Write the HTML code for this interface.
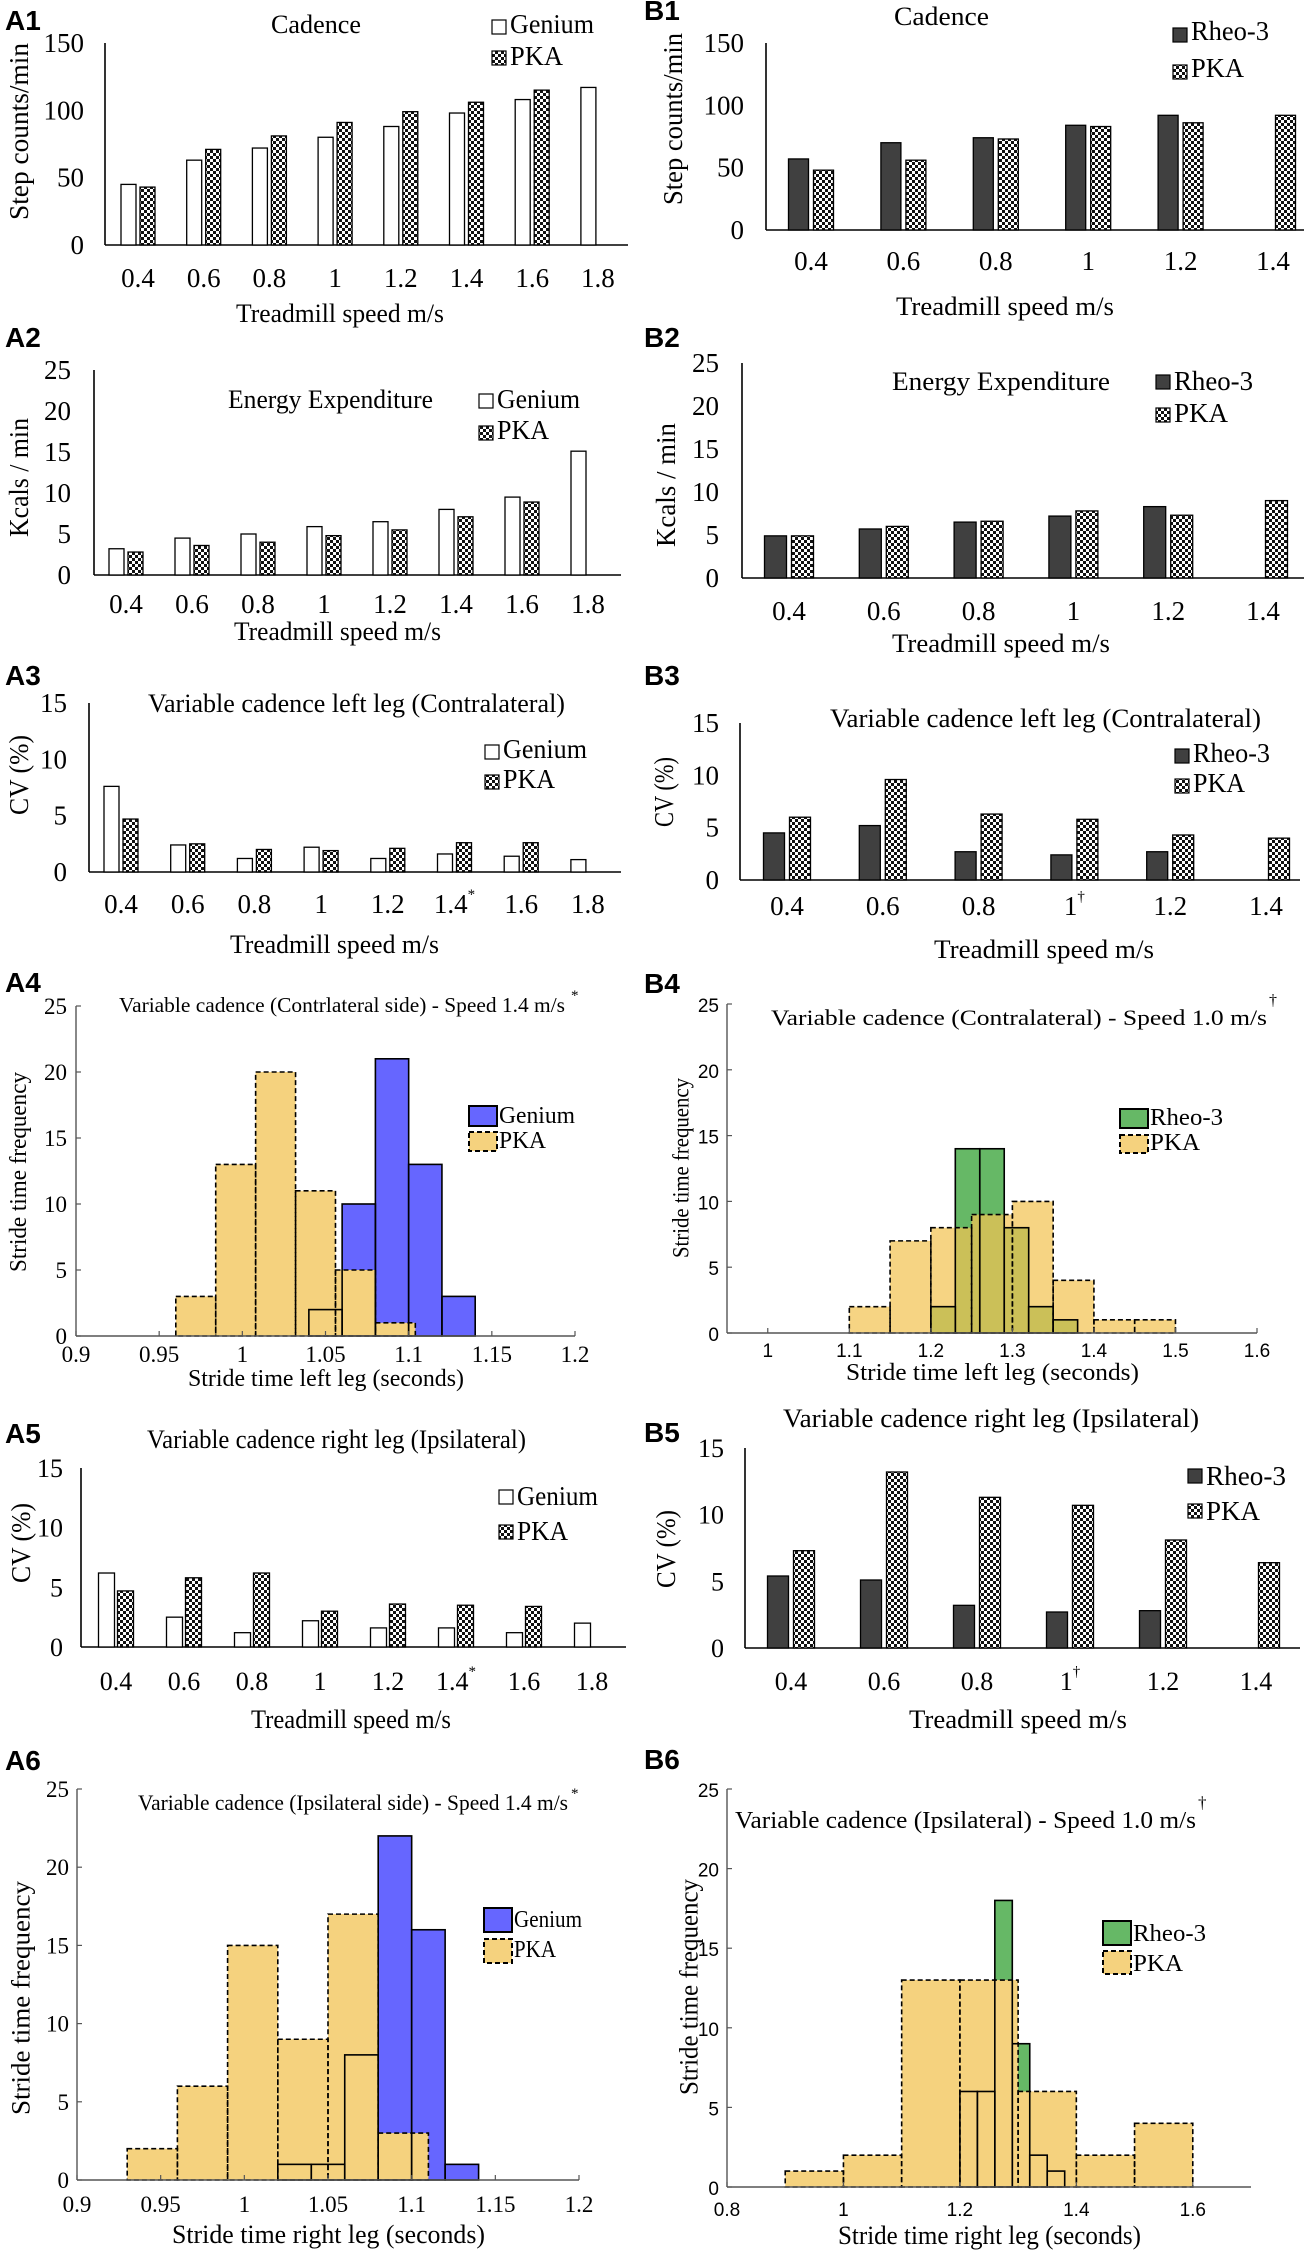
<!DOCTYPE html>
<html><head><meta charset="utf-8"><title>Gait comparison figure</title>
<style>html,body{margin:0;padding:0;background:#fff;}svg{display:block;}</style>
</head><body>
<svg id="fig" xmlns="http://www.w3.org/2000/svg" width="1313" height="2256" viewBox="0 0 1313 2256">
<defs>
<pattern id="chk" width="6" height="6" patternUnits="userSpaceOnUse"><rect width="6" height="6" fill="#fff"/><rect width="3" height="3" fill="#111"/><rect x="3" y="3" width="3" height="3" fill="#111"/></pattern>
</defs>
<rect width="1313" height="2256" fill="#fff"/>
</svg>
<script>
// ---------- data ----------
const speedsA = ['0.4','0.6','0.8','1','1.2','1.4','1.6','1.8'];
const speedsB = ['0.4','0.6','0.8','1','1.2','1.4'];
const a1Genium = [45,63,72,80,88,98,108,117];
const a1PKA = [43,71,81,91,99,106,115];
const b1Rheo = [57,70,74,84,92];
const b1PKA = [48,56,73,83,86,92];
const a2Genium = [3.2,4.5,5.0,5.9,6.5,8.0,9.5,15.1];
const a2PKA = [2.8,3.6,4.0,4.8,5.5,7.1,8.9];
const b2Rheo = [4.9,5.7,6.5,7.2,8.3];
const b2PKA = [4.9,6.0,6.6,7.8,7.3,9.0];
const a3Genium = [7.6,2.4,1.2,2.2,1.2,1.6,1.4,1.1];
const a3PKA = [4.7,2.5,2.0,1.9,2.1,2.6,2.6];
const b3Rheo = [4.5,5.2,2.7,2.4,2.7];
const b3PKA = [6.0,9.6,6.3,5.8,4.3,4.0];
const a5Genium = [6.2,2.5,1.2,2.2,1.6,1.6,1.2,2.0];
const a5PKA = [4.7,5.8,6.2,3.0,3.6,3.5,3.4];
const b5Rheo = [5.4,5.1,3.2,2.7,2.8];
const b5PKA = [7.3,13.2,11.3,10.7,8.1,6.4];
const ticksCadence = [0,50,100,150];
const ticksEnergy = [0,5,10,15,20,25];
const ticksCV = [0,5,10,15];
const ticksFreq = [0,5,10,15,20,25];
const a4PkaEdges = [0.96,0.984,1.008,1.032,1.056,1.080,1.104];
const a4PkaCounts = [3,13,20,11,5,1];
const a4GenEdges = [1.04,1.06,1.08,1.10,1.12,1.14];
const a4GenCounts = [2,10,21,13,3];
const b4PkaEdges = [1.10,1.15,1.20,1.25,1.30,1.35,1.40,1.45,1.50];
const b4PkaCounts = [2,7,8,9,10,4,1,1];
const b4RheoEdges = [1.20,1.23,1.26,1.29,1.32,1.35,1.38];
const b4RheoCounts = [2,14,14,8,2,1];
const a6PkaEdges = [0.93,0.96,0.99,1.02,1.05,1.08,1.11];
const a6PkaCounts = [2,6,15,9,17,3];
const a6GenEdges = [1.02,1.04,1.06,1.08,1.10,1.12,1.14];
const a6GenCounts = [1,1,8,22,16,1];
const b6PkaEdges = [0.9,1.0,1.1,1.2,1.3,1.4,1.5,1.6];
const b6PkaCounts = [1,2,13,13,6,2,4];
const b6RheoEdges = [1.20,1.23,1.26,1.29,1.32,1.35,1.38];
const b6RheoCounts = [6,6,18,9,2,1];
const xTicksA = [0.9,0.95,1,1.05,1.1,1.15,1.2];
const xTickLabelsA = ['0.9','0.95','1','1.05','1.1','1.15','1.2'];
const xTicksB4 = [1,1.1,1.2,1.3,1.4,1.5,1.6];
const xTickLabelsB4 = ['1','1.1','1.2','1.3','1.4','1.5','1.6'];
const xTicksB6 = [0.8,1.0,1.2,1.4,1.6];
const xTickLabelsB6 = ['0.8','1','1.2','1.4','1.6'];

// ---------- helpers ----------
const NS = 'http://www.w3.org/2000/svg';
const root = document.getElementById('fig');
const SERIF = '"Liberation Serif", "Times New Roman", serif';
const SANS = '"Liberation Sans", Arial, sans-serif';
function mk(tag, attrs, name, parent) {
  const el = document.createElementNS(NS, tag);
  for (const k in attrs) el.setAttribute(k, attrs[k]);
  
  
  (parent || root).appendChild(el);
  return el;
}
function txt(name, x, y, s, o) {
  o = o || {};
  const a = {x: x, y: y, 'font-family': o.family || SERIF, 'font-size': o.size || 26, fill: '#000', 'text-anchor': o.anchor || 'start'};
  if (o.weight) a['font-weight'] = o.weight;
  if (o.len) { a.textLength = o.len; a.lengthAdjust = 'spacingAndGlyphs'; }
  if (o.rot) { a.transform = 'rotate(-90 ' + x + ' ' + y + ')'; a['dominant-baseline'] = 'central'; }
  const el = mk('text', a, name);
  el.textContent = s;
  return el;
}
function ylabel(name, cx, y1, y2, s, size) {
  txt(name, cx, (y1 + y2) / 2, s, {rot: true, anchor: 'middle', len: y2 - y1, size: size || 26});
}

function barChart(id, c, cats, s1, s2, ticks, ymax, darkFirst, sup) {
  const ys = v => c.y0 - (v / ymax) * (c.y0 - c.yTop);
  const xc = i => c.c0 + i * c.sp;
  mk('line', {x1: c.ax, y1: c.yTop, x2: c.ax, y2: c.y0, stroke: '#000', 'stroke-width': 1.6}, id + '-y-axis');
  mk('line', {x1: c.ax, y1: c.y0, x2: c.xEnd, y2: c.y0, stroke: '#000', 'stroke-width': 1.6}, id + '-x-axis');
  ticks.forEach(function (t) {
    txt(id + '-y-tick-label', c.tr, ys(t) + 9, String(t), {anchor: 'end', size: c.fs || 27});
  });
  cats.forEach(function (lab, i) {
    const el = txt(id + '-x-tick-label', xc(i), c.tb, lab, {anchor: 'middle', size: c.fs || 27});
    if (sup && sup.i === i) {
      const sp = document.createElementNS(NS, 'tspan');
      sp.setAttribute('font-size', 15);
      sp.setAttribute('dy', -14);
      sp.textContent = sup.s;
      el.appendChild(sp);
    }
  });
  s1.forEach(function (v, i) {
    mk('rect', {x: xc(i) - c.gap / 2 - c.bw, y: ys(v), width: c.bw, height: c.y0 - ys(v), fill: darkFirst ? '#404040' : '#fff', stroke: '#000', 'stroke-width': 1.3}, id + '-bar-series1');
  });
  s2.forEach(function (v, i) {
    mk('rect', {x: xc(i) + c.gap / 2, y: ys(v), width: c.bw, height: c.y0 - ys(v), fill: 'url(#chk)', stroke: '#000', 'stroke-width': 1.3}, id + '-bar-pka');
  });
}
function barLegend(id, x, y1top, tb1, w1, lab1, y2top, tb2, w2, dark) {
  mk('rect', {x: x, y: y1top, width: 14, height: 14, fill: dark ? '#404040' : '#fff', stroke: '#000', 'stroke-width': 1.2}, id + '-legend-swatch-1');
  txt(id + '-legend-label-1', x + 18, tb1, lab1, {len: w1, size: 27});
  mk('rect', {x: x, y: y2top, width: 14, height: 14, fill: 'url(#chk)', stroke: '#000', 'stroke-width': 1.2}, id + '-legend-swatch-pka');
  txt(id + '-legend-label-pka', x + 18, tb2, 'PKA', {len: w2, size: 27});
}

function hist(id, c, pE, pC, gE, gC, gColor, pOpacity) {
  const xs = v => c.ax + (v - c.xmin) / (c.xmax - c.xmin) * (c.xEnd - c.ax);
  const ys = v => c.y0 - (v / 25) * (c.y0 - c.yTop);
  const fam = c.sans ? SANS : SERIF;
  const fs = c.sans ? 19 : 23;
  gC.forEach(function (v, i) {
    mk('rect', {x: xs(gE[i]), y: ys(v), width: xs(gE[i + 1]) - xs(gE[i]), height: c.y0 - ys(v), fill: gColor}, id + '-hist-device-fill');
  });
  pC.forEach(function (v, i) {
    mk('rect', {x: xs(pE[i]), y: ys(v), width: xs(pE[i + 1]) - xs(pE[i]), height: c.y0 - ys(v), fill: pOpacity < 1 ? '#f2c353' : '#f5d27e', 'fill-opacity': pOpacity}, id + '-hist-pka-fill');
  });
  gC.forEach(function (v, i) {
    mk('rect', {x: xs(gE[i]), y: ys(v), width: xs(gE[i + 1]) - xs(gE[i]), height: c.y0 - ys(v), fill: 'none', stroke: '#000', 'stroke-width': 1.6}, id + '-hist-device-bin');
  });
  pC.forEach(function (v, i) {
    mk('rect', {x: xs(pE[i]), y: ys(v), width: xs(pE[i + 1]) - xs(pE[i]), height: c.y0 - ys(v), fill: 'none', stroke: '#000', 'stroke-width': 1.6, 'stroke-dasharray': '5,3'}, id + '-hist-pka-bin');
  });
  mk('line', {x1: c.ax, y1: c.yTop, x2: c.ax, y2: c.y0, stroke: '#555', 'stroke-width': 1.4}, id + '-y-axis');
  mk('line', {x1: c.ax, y1: c.y0, x2: c.xEnd, y2: c.y0, stroke: '#555', 'stroke-width': 1.4}, id + '-x-axis');
  ticksFreq.forEach(function (t) {
    mk('line', {x1: c.ax, y1: ys(t), x2: c.ax + 5, y2: ys(t), stroke: '#555', 'stroke-width': 1.2}, id + '-y-tick');
    txt(id + '-y-tick-label', c.tr, ys(t) + 8, String(t), {anchor: 'end', size: fs, family: fam});
  });
  c.xt.forEach(function (t, i) {
    mk('line', {x1: xs(t), y1: c.y0, x2: xs(t), y2: c.y0 - 5, stroke: '#555', 'stroke-width': 1.2}, id + '-x-tick');
    txt(id + '-x-tick-label', xs(t), c.tb, c.xl[i], {anchor: 'middle', size: fs, family: fam});
  });
}
function histLegend(id, x, b1t, b1b, t1b, w1, lab1, color, b2t, b2b, t2b, w2) {
  mk('rect', {x: x, y: b1t, width: 28, height: b1b - b1t, fill: color, stroke: '#000', 'stroke-width': 2}, id + '-legend-swatch-1');
  txt(id + '-legend-label-1', x + 30, t1b, lab1, {len: w1, size: 24});
  mk('rect', {x: x, y: b2t, width: 28, height: b2b - b2t, fill: '#f5d27e', stroke: '#000', 'stroke-width': 2, 'stroke-dasharray': '5,3'}, id + '-legend-swatch-pka');
  txt(id + '-legend-label-pka', x + 30, t2b, 'PKA', {len: w2, size: 24});
}

// ---------- panel letters ----------
[['A1',30],['A2',347],['A3',685],['A4',992],['A5',1443],['A6',1770]].forEach(function (p) { txt('panel-label-' + p[0].toLowerCase(), 5, p[1], p[0], {family: SANS, weight: 'bold', size: 28}); });
[['B1',20],['B2',347],['B3',685],['B4',993],['B5',1442],['B6',1769]].forEach(function (p) { txt('panel-label-' + p[0].toLowerCase(), 644, p[1], p[0], {family: SANS, weight: 'bold', size: 28}); });

// ---------- A1 ----------
barChart('a1', {ax:105,xEnd:628,y0:245,yTop:43,c0:138,sp:65.7,bw:15,gap:4,tb:287,tr:84}, speedsA, a1Genium, a1PKA, ticksCadence, 150, false);
txt('a1-title', 271, 33, 'Cadence', {len: 90});
barLegend('a1', 492, 20, 33, 84, 'Genium', 51, 65, 53, false);
txt('a1-x-axis-title', 236, 322, 'Treadmill speed m/s', {len: 208});
ylabel('a1-y-axis-title', 19, 43, 220, 'Step counts/min', 27);
// ---------- B1 ----------
barChart('b1', {ax:766,xEnd:1304,y0:230,yTop:43,c0:811,sp:92.4,bw:20,gap:5,tb:270,tr:744}, speedsB, b1Rheo, b1PKA, ticksCadence, 150, true);
txt('b1-title', 894, 25, 'Cadence', {len: 95});
barLegend('b1', 1173, 28, 40, 78, 'Rheo-3', 65, 77, 53, true);
txt('b1-x-axis-title', 896, 315, 'Treadmill speed m/s', {len: 218});
ylabel('b1-y-axis-title', 673, 33, 205, 'Step counts/min', 27);
// ---------- A2 ----------
barChart('a2', {ax:94,xEnd:621,y0:575,yTop:370,c0:126,sp:66,bw:15,gap:4,tb:613,tr:71}, speedsA, a2Genium, a2PKA, ticksEnergy, 25, false);
txt('a2-title', 228, 408, 'Energy Expenditure', {len: 205});
barLegend('a2', 479, 394, 408, 83, 'Genium', 426, 439, 52, false);
txt('a2-x-axis-title', 234, 640, 'Treadmill speed m/s', {len: 207});
ylabel('a2-y-axis-title', 19, 418, 537, 'Kcals / min', 27);
// ---------- B2 ----------
barChart('b2', {ax:742,xEnd:1304,y0:578,yTop:363,c0:789,sp:94.8,bw:22,gap:5,tb:620,tr:719}, speedsB, b2Rheo, b2PKA, ticksEnergy, 25, true);
txt('b2-title', 892, 390, 'Energy Expenditure', {len: 218});
barLegend('b2', 1156, 375, 390, 79, 'Rheo-3', 408, 422, 54, true);
txt('b2-x-axis-title', 892, 652, 'Treadmill speed m/s', {len: 218});
ylabel('b2-y-axis-title', 666, 423, 547, 'Kcals / min', 27);
// ---------- A3 ----------
barChart('a3', {ax:89,xEnd:621,y0:872,yTop:703,c0:121,sp:66.7,bw:15,gap:4,tb:913,tr:67}, speedsA, a3Genium, a3PKA, ticksCV, 15, false, {i:5, s:'*'});
txt('a3-title', 148, 712, 'Variable cadence left leg (Contralateral)', {len: 417});
barLegend('a3', 485, 745, 758, 84, 'Genium', 775, 788, 52, false);
txt('a3-x-axis-title', 230, 953, 'Treadmill speed m/s', {len: 209});
ylabel('a3-y-axis-title', 19, 735, 815, 'CV (%)', 27);
// ---------- B3 ----------
barChart('b3', {ax:740,xEnd:1300,y0:880,yTop:723,c0:787,sp:95.8,bw:21,gap:5,tb:915,tr:719}, speedsB, b3Rheo, b3PKA, ticksCV, 15, true, {i:3, s:'†'});
txt('b3-title', 830, 727, 'Variable cadence left leg (Contralateral)', {len: 431});
barLegend('b3', 1175, 749, 762, 77, 'Rheo-3', 779, 792, 52, true);
txt('b3-x-axis-title', 934, 958, 'Treadmill speed m/s', {len: 220});
ylabel('b3-y-axis-title', 664, 757, 827, 'CV (%)', 27);
// ---------- A4 ----------
hist('a4', {ax:76,xEnd:575,xmin:0.9,xmax:1.2,y0:1336,yTop:1006,tb:1362,tr:67,xt:xTicksA,xl:xTickLabelsA,sans:false}, a4PkaEdges, a4PkaCounts, a4GenEdges, a4GenCounts, '#6666ff', 1);
txt('a4-title', 119, 1012, 'Variable cadence (Contrlateral side) - Speed 1.4 m/s', {len: 446, size: 21});
txt('a4-title-mark', 571, 1000, '*', {size: 15});
histLegend('a4', 469, 1106, 1126, 1123, 76, 'Genium', '#6666ff', 1132, 1151, 1148, 47);
txt('a4-x-axis-title', 188, 1386, 'Stride time left leg (seconds)', {len: 276, size: 24});
ylabel('a4-y-axis-title', 19, 1072, 1272, 'Stride time frequency', 24);
// ---------- B4 ----------
hist('b4', {ax:727,xEnd:1257,xmin:0.95,xmax:1.6,y0:1333,yTop:1004,tb:1357,tr:719,xt:xTicksB4,xl:xTickLabelsB4,sans:true}, b4PkaEdges, b4PkaCounts, b4RheoEdges, b4RheoCounts, '#66b866', 0.72);
txt('b4-title', 771, 1025, 'Variable cadence (Contralateral) - Speed 1.0 m/s', {len: 496, size: 22});
txt('b4-title-mark', 1269, 1005, '†', {size: 16});
histLegend('b4', 1120, 1109, 1128, 1125, 73, 'Rheo-3', '#66b866', 1135, 1153, 1150, 50);
txt('b4-x-axis-title', 846, 1380, 'Stride time left leg (seconds)', {len: 293, size: 24});
ylabel('b4-y-axis-title', 681, 1078, 1258, 'Stride time frequency', 23);
// ---------- A5 ----------
barChart('a5', {ax:81,xEnd:626,y0:1647,yTop:1468,c0:116,sp:68,bw:16,gap:3,tb:1690,tr:63,fs:26}, speedsA, a5Genium, a5PKA, ticksCV, 15, false, {i:5, s:'*'});
txt('a5-title', 147, 1448, 'Variable cadence right leg (Ipsilateral)', {len: 379});
barLegend('a5', 499, 1490, 1505, 81, 'Genium', 1525, 1540, 51, false);
txt('a5-x-axis-title', 251, 1728, 'Treadmill speed m/s', {len: 200});
ylabel('a5-y-axis-title', 21, 1503, 1583, 'CV (%)', 27);
// ---------- B5 ----------
barChart('b5', {ax:745,xEnd:1300,y0:1648,yTop:1448,c0:791,sp:93,bw:21,gap:5,tb:1690,tr:724,fs:26}, speedsB, b5Rheo, b5PKA, ticksCV, 15, true, {i:3, s:'†'});
txt('b5-title', 783, 1427, 'Variable cadence right leg (Ipsilateral)', {len: 416});
barLegend('b5', 1188, 1469, 1485, 80, 'Rheo-3', 1504, 1520, 54, true);
txt('b5-x-axis-title', 909, 1728, 'Treadmill speed m/s', {len: 218});
ylabel('b5-y-axis-title', 666, 1510, 1588, 'CV (%)', 27);
// ---------- A6 ----------
hist('a6', {ax:77,xEnd:579,xmin:0.9,xmax:1.2,y0:2180,yTop:1789,tb:2212,tr:69,xt:xTicksA,xl:xTickLabelsA,sans:false}, a6PkaEdges, a6PkaCounts, a6GenEdges, a6GenCounts, '#6666ff', 1);
txt('a6-title', 138, 1810, 'Variable cadence (Ipsilateral side) - Speed 1.4 m/s', {len: 430, size: 22});
txt('a6-title-mark', 571, 1798, '*', {size: 15});
histLegend('a6', 484, 1908, 1932, 1927, 68, 'Genium', '#6666ff', 1939, 1963, 1957, 42);
txt('a6-x-axis-title', 172, 2243, 'Stride time right leg (seconds)', {len: 313, size: 26});
ylabel('a6-y-axis-title', 21, 1881, 2115, 'Stride time frequency', 26);
// ---------- B6 ----------
hist('b6', {ax:727,xEnd:1251,xmin:0.8,xmax:1.7,y0:2187,yTop:1789,tb:2216,tr:719,xt:xTicksB6,xl:xTickLabelsB6,sans:true}, b6PkaEdges, b6PkaCounts, b6RheoEdges, b6RheoCounts, '#66b866', 1);
txt('b6-title', 735, 1828, 'Variable cadence (Ipsilateral) - Speed 1.0 m/s', {len: 461, size: 24});
txt('b6-title-mark', 1198, 1808, '†', {size: 17});
histLegend('b6', 1103, 1921, 1945, 1941, 73, 'Rheo-3', '#66b866', 1951, 1974, 1971, 50);
txt('b6-x-axis-title', 838, 2244, 'Stride time right leg (seconds)', {len: 303, size: 26});
ylabel('b6-y-axis-title', 689, 1879, 2095, 'Stride time frequency', 26);
</script>
</body></html>
